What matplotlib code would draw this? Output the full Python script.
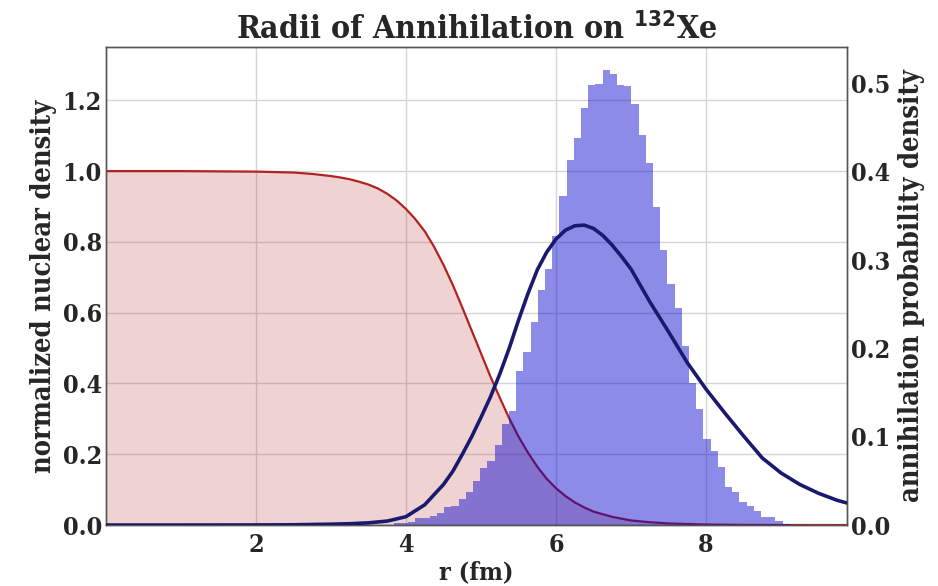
import numpy as np
import matplotlib
matplotlib.use("Agg")
import matplotlib.pyplot as plt

# ---------------- data ----------------
# Nuclear density (left axis)
r_density = [0.0, 1.0, 2.0, 2.5, 2.75, 3.0, 3.125, 3.25, 3.375, 3.5, 3.625, 3.75, 3.875,
             4.0, 4.125, 4.25, 4.375, 4.5, 4.625, 4.75, 4.875, 5.0, 5.125, 5.25, 5.375,
             5.5, 5.625, 5.75, 5.875, 6.0, 6.125, 6.25, 6.375, 6.5, 6.75, 7.0, 7.25,
             7.5, 8.0, 8.5, 9.0, 9.88]
density = [1.0, 1.0, 0.9985, 0.996, 0.992, 0.986, 0.982, 0.977, 0.970, 0.962, 0.951, 0.936, 0.917,
           0.893, 0.864, 0.830, 0.786, 0.735, 0.678, 0.615, 0.550, 0.485, 0.420, 0.360, 0.302,
           0.250, 0.205, 0.165, 0.131, 0.104, 0.082, 0.064, 0.050, 0.038, 0.023, 0.013, 0.008,
           0.0045, 0.0015, 0.0005, 0.0002, 0.0]

# Annihilation probability curve (right axis)
r_annih = [0.0, 1.0, 2.0, 2.5, 3.0, 3.25, 3.5, 3.75, 4.0, 4.25, 4.5, 4.625, 4.75, 4.875,
           5.0, 5.125, 5.25, 5.375, 5.5, 5.625, 5.75, 5.875, 6.0, 6.125, 6.25, 6.375,
           6.5, 6.625, 6.75, 6.875, 7.0, 7.25, 7.5, 7.75, 8.0, 8.25, 8.5, 8.75, 9.0,
           9.25, 9.5, 9.75, 9.88]
annih = [0.0, 0.0, 0.0001, 0.0003, 0.001, 0.0015, 0.0025, 0.0045, 0.0095, 0.023, 0.046, 0.061,
         0.080, 0.100, 0.122, 0.145, 0.171, 0.200, 0.232, 0.262, 0.289, 0.309, 0.324, 0.334,
         0.339, 0.3398, 0.336, 0.328, 0.317, 0.304, 0.290, 0.253, 0.219, 0.184, 0.154, 0.127,
         0.101, 0.076, 0.059, 0.046, 0.036, 0.028, 0.025]

# Histogram of annihilation radii (right axis)
hist_first_edge = 3.838
hist_bin_width = 0.096
hist_heights = [0.002, 0.002, 0.003, 0.0075, 0.0075, 0.010, 0.014, 0.020, 0.022, 0.029,
                0.037, 0.050, 0.065, 0.072, 0.091, 0.114, 0.129, 0.174, 0.196, 0.230,
                0.266, 0.290, 0.328, 0.373, 0.413, 0.439, 0.472, 0.498, 0.500, 0.516,
                0.5115, 0.499, 0.497, 0.4775, 0.4417, 0.4096, 0.3598, 0.3114, 0.2726, 0.2454,
                0.2027, 0.1612, 0.131, 0.097, 0.084, 0.066, 0.043, 0.038, 0.026, 0.022,
                0.016, 0.0087, 0.0087, 0.005, 0.0015, 0.0004, 0.0002]

x_ticks = [2, 4, 6, 8]
left_ticks = [0.0, 0.2, 0.4, 0.6, 0.8, 1.0, 1.2]
right_ticks = [0.0, 0.1, 0.2, 0.3, 0.4, 0.5]

# ---------------- styling ----------------
plt.rcParams['font.family'] = ['DejaVu Serif']
plt.rcParams['font.weight'] = 'bold'
plt.rcParams['font.stretch'] = 'condensed'
plt.rcParams['mathtext.fontset'] = 'dejavusans'
plt.rcParams['axes.unicode_minus'] = False

fig = plt.figure(figsize=(9.38, 5.86), dpi=100)
ax = fig.add_axes([0.113, 0.104, 0.790, 0.816])
ax.set_axisbelow(True)

ax.plot(r_density, density, color='firebrick', lw=1.6, zorder=3)
ax.fill_between(r_density, density, 0, color='firebrick', alpha=0.2, lw=0, zorder=2)
ax.grid(True, color='#d5d5d5', lw=1.0, zorder=0)

ax.set_xlim(0, 9.88)
ax.set_ylim(0, 1.351)
ax.set_xticks(x_ticks)
ax.set_yticks(left_ticks)
ax.set_yticklabels([f"{t:.1f}" for t in left_ticks])
ax.tick_params(axis='y', length=0, labelsize=18, pad=3)
ax.tick_params(axis='x', length=0, labelsize=18, pad=6)
ax.set_xlabel("r (fm)", fontsize=18, fontweight='bold', labelpad=2)
ax.set_ylabel("normalized nuclear density", fontsize=19.5, fontweight='bold', labelpad=4)
ax.set_title(r"Radii of Annihilation on $^{\mathbf{132}}$Xe", fontsize=23,
             fontweight='bold', pad=6, color='#262626')

ax2 = ax.twinx()
edges = hist_first_edge + hist_bin_width * np.arange(len(hist_heights) + 1)
ax2.stairs(hist_heights, edges, fill=True, color='mediumblue', alpha=0.45, lw=0, zorder=2)
ax2.plot(r_annih, annih, color='midnightblue', lw=2.6, zorder=4)
ax2.set_ylim(0, 0.5417)
ax2.set_yticks(right_ticks)
ax2.set_yticklabels([f"{t:.1f}" for t in right_ticks])
ax2.tick_params(length=0, labelsize=18, pad=3)
ax2.set_ylabel("annihilation probability density", fontsize=19.5, fontweight='bold', labelpad=5)
ax2.grid(False)

for a in (ax, ax2):
    for s in a.spines.values():
        s.set_color('#555555')
        s.set_linewidth(1.0)
    for lab in a.get_xticklabels() + a.get_yticklabels():
        lab.set_color('#262626')
ax.xaxis.label.set_color('#262626')
ax.yaxis.label.set_color('#262626')
ax2.yaxis.label.set_color('#262626')

fig.savefig("out.png", dpi=100)
